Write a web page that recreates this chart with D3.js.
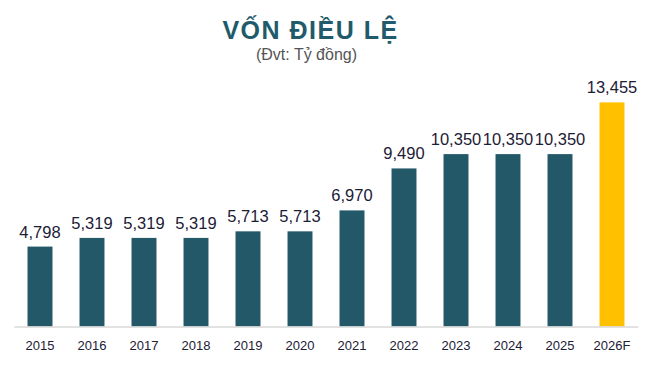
<!DOCTYPE html>
<html>
<head>
<meta charset="utf-8">
<script src="https://cdn.jsdelivr.net/npm/d3@7"></script>
<style>
  body { margin: 0; background: #fff; }
  text { font-family: "Liberation Sans", Arial, sans-serif; }
</style>
</head>
<body>
<svg id="chart" width="652" height="372"></svg>
<script>
const years = ["2015","2016","2017","2018","2019","2020","2021","2022","2023","2024","2025","2026F"];
const values = [4798, 5319, 5319, 5319, 5713, 5713, 6970, 9490, 10350, 10350, 10350, 13455];
const forecast = ["2026F"];

const svg = d3.select("#chart");

const x = d3.scaleBand().domain(years).range([14, 638]).paddingInner(0.52).paddingOuter(0.26);
const y = d3.scaleLinear().domain([0, 16000]).range([326.5, 60]);

// title
svg.append("text").attr("x", 310.5).attr("y", 39).attr("text-anchor", "middle")
  .attr("font-size", 25).attr("font-weight", "bold").attr("fill", "#215A6A")
  .attr("letter-spacing", 1.5)
  .text("VỐN ĐIỀU LỆ");
svg.append("text").attr("x", 306.5).attr("y", 60).attr("text-anchor", "middle")
  .attr("font-size", 16).attr("fill", "#555")
  .text("(Đvt: Tỷ đồng)");

// bars
svg.selectAll(".bar").data(values).enter().append("rect")
  .attr("class", "bar")
  .attr("x", (d, i) => x(years[i]))
  .attr("width", x.bandwidth())
  .attr("y", d => y(d))
  .attr("height", d => y(0) - y(d))
  .attr("fill", (d, i) => forecast.includes(years[i]) ? "#FFC000" : "#225868");

// value labels
svg.selectAll(".lbl").data(values).enter().append("text")
  .attr("class", "lbl")
  .attr("x", (d, i) => x(years[i]) + x.bandwidth() / 2)
  .attr("y", d => y(d) - 9)
  .attr("text-anchor", "middle")
  .attr("font-size", 16.5)
  .attr("fill", "#1c2035")
  .text(d => d3.format(",")(d));

// x axis
const axis = svg.append("g").attr("transform", "translate(0," + y(0) + ")")
  .call(d3.axisBottom(x).tickSize(0).tickPadding(14));
axis.select(".domain").attr("stroke", "#d9d9d9").attr("stroke-width", 1.5);
axis.selectAll("text").attr("font-size", 13).attr("fill", "#1c2035")
  .attr("font-family", "Liberation Sans, Arial, sans-serif");
</script>
</body>
</html>
